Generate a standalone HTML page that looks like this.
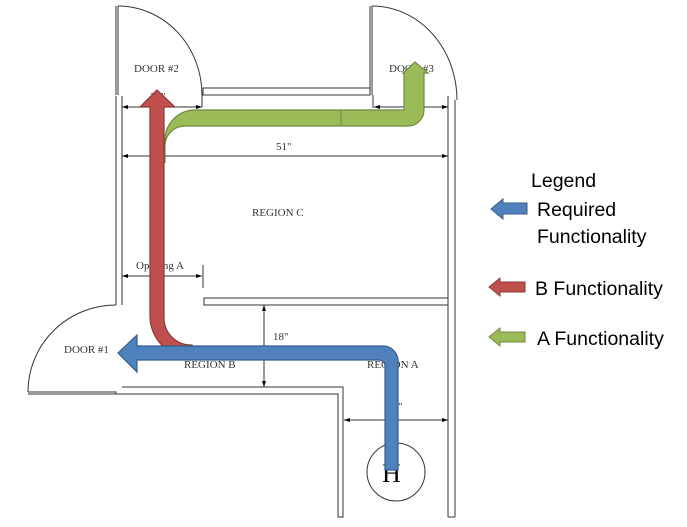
<!DOCTYPE html>
<html><head><meta charset="utf-8"><style>
html,body{margin:0;padding:0;background:#fff;}
svg{display:block;}
.s{font-family:"Liberation Serif",serif;font-size:11px;fill:#333;}
.l{font-family:"Liberation Sans",sans-serif;font-size:19.5px;fill:#000;}
</style></head><body>
<svg width="687" height="527" viewBox="0 0 687 527">
<defs>
<marker id="a" markerWidth="6" markerHeight="6" refX="6" refY="3" orient="auto-start-reverse"><path d="M0,1 L6,3 L0,5Z" fill="#000"/></marker>
</defs>
<g fill="none" stroke="#333" stroke-width="1">
<line x1="116" y1="6" x2="116" y2="95"/><line x1="118" y1="6" x2="118" y2="95"/>
<path d="M118,6 A84,89 0 0 1 202,95"/>
<line x1="116" y1="96" x2="116" y2="305"/><line x1="122" y1="96" x2="122" y2="305"/>
<rect x="203" y="88" width="167" height="7"/>
<line x1="202" y1="95" x2="202" y2="107"/>
<line x1="370" y1="6" x2="370" y2="95"/><line x1="372" y1="6" x2="372" y2="95"/>
<path d="M372,6 A85,94 0 0 1 457,100"/>
<line x1="373" y1="95" x2="373" y2="108"/>
<line x1="448" y1="96" x2="448" y2="517"/><line x1="455" y1="100" x2="455" y2="517"/>
<line x1="448" y1="517" x2="455" y2="517"/>
<path d="M448,298 H204 V305 H448"/>
<path d="M116,305 A88,87 0 0 0 28,392"/>
<path d="M28,392 H116 V394"/><line x1="28" y1="394" x2="116" y2="394"/>
<path d="M122,387 H343 V517 H338 V394 H116"/>
<line x1="122" y1="107" x2="202" y2="107" marker-start="url(#a)" marker-end="url(#a)"/>
<line x1="374" y1="107" x2="448" y2="107" marker-start="url(#a)" marker-end="url(#a)"/>
<line x1="122" y1="156" x2="448" y2="156" marker-start="url(#a)" marker-end="url(#a)"/>
<line x1="122" y1="276" x2="202" y2="276" marker-start="url(#a)" marker-end="url(#a)"/>
<line x1="203" y1="265" x2="203" y2="288"/>
<line x1="264" y1="305" x2="264" y2="387" marker-start="url(#a)" marker-end="url(#a)"/>
<line x1="344" y1="420" x2="448" y2="420" marker-start="url(#a)" marker-end="url(#a)"/>
<circle cx="396" cy="472" r="29"/>
</g>
<text class="s" x="134" y="72">DOOR #2</text>
<text class="s" x="389" y="72">DOOR #3</text>
<text class="s" x="150" y="100">20"</text>
<text class="s" x="402" y="100">1</text>
<text class="s" x="276" y="150">51"</text>
<text class="s" x="252" y="216">REGION C</text>
<text class="s" x="136" y="269">Opening A</text>
<text class="s" x="273" y="340">18"</text>
<text class="s" x="64" y="353">DOOR #1</text>
<text class="s" x="184" y="368">REGION B</text>
<text class="s" x="367" y="368">REGION A</text>
<text class="s" x="398" y="410">"</text>
<text x="382" y="482" style="font-family:'Liberation Serif',serif;font-size:26px">H</text>
<path d="M165,163 V140 A30,30 0 0 1 195,110 H404 V73 H403 L415,62 L428,73 H424 V110 A16,16 0 0 1 408,126 H185 A20,20 0 0 0 165,146Z" fill="#9bbb59" stroke="#71893f" stroke-width="1.2"/>
<line x1="341" y1="110" x2="341" y2="126" stroke="#71893f"/>
<path d="M150,107 H140 L157,90 L175,107 H164 V318 A27,27 0 0 0 192,345 V358 A42,42 0 0 1 150,316Z" fill="#c0504d" stroke="#8c3836" stroke-width="1.2"/>
<path d="M192,346 H383 A15,15 0 0 1 398,361 V470 H385 V366 A6,6 0 0 0 379,360 H137 V372 L118,353 L137,335 V346Z" fill="#4f81bd" stroke="#385d8a" stroke-width="1.2"/>
<text class="l" x="531" y="187">Legend</text>
<path d="M527,203 H503 V199 L491,209 L503,219 V214 H527Z" fill="#4f81bd" stroke="#385d8a"/>
<text class="l" x="537" y="216">Required</text>
<text class="l" x="537" y="243">Functionality</text>
<path d="M525,282 H500 V278 L489,287 L500,296 V292 H525Z" fill="#c0504d" stroke="#8c3836"/>
<text class="l" x="535" y="295">B Functionality</text>
<path d="M525,332 H500 V328 L489,337 L500,346 V342 H525Z" fill="#9bbb59" stroke="#71893f"/>
<text class="l" x="537" y="345">A Functionality</text>
</svg>
</body></html>
